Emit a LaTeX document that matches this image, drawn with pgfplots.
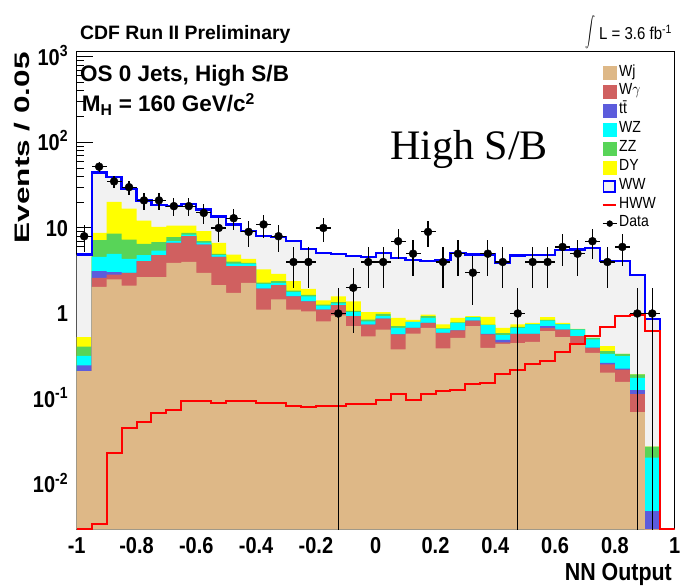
\documentclass[border=0pt]{standalone}
\usepackage{fontspec}
\setmainfont{Liberation Sans}
\newfontfamily\seriffont{Liberation Serif}
\usepackage{graphicx}
\usepackage{pgfplots}
\usepackage{pgfplotstable}
\pgfplotsset{compat=1.18}
\newcommand\fs[1]{\fontsize{#1}{#1}\selectfont}
\newcommand\tl[1]{\scalebox{1}[1.15]{#1}}
\definecolor{cWj}{RGB}{222,184,135}
\definecolor{cWg}{RGB}{208,96,96}
\definecolor{ctt}{RGB}{92,92,220}
\definecolor{cWZ}{RGB}{0,255,255}
\definecolor{cZZ}{RGB}{88,212,88}
\definecolor{cDY}{RGB}{255,255,0}
\definecolor{cWW}{RGB}{242,242,242}

\pgfplotstableread{
xl wj wg tt wz zz dy ww hww
-1.00 0.212 0.212 0.248 0.32 0.41 0.53 4.89 0.003
-0.95 2.05 2.61 3.12 4.59 7.19 8.76 44.5 0.0035
-0.90 2.50 2.85 3.04 4.98 8.60 20.2 39.5 0.0236
-0.85 2.12 2.99 2.99 4.35 7.32 16.85 28.8 0.046
-0.80 2.66 4.09 4.09 4.80 6.51 12.2 20.9 0.054
-0.75 2.66 4.80 4.80 5.45 6.81 10.29 18.4 0.0685
-0.70 3.91 6.69 6.69 7.0 7.79 10.67 18.2 0.075
-0.65 4.01 8.01 8.01 8.38 8.76 10.67 19.1 0.096
-0.60 2.99 6.4 6.4 6.75 7.0 9.16 16.4 0.096
-0.55 2.14 4.59 4.59 4.80 4.98 6.69 13.6 0.090
-0.50 1.74 3.57 3.57 3.84 4.05 4.89 11.0 0.096
-0.45 2.28 3.57 3.57 3.84 3.90 4.35 9.2 0.096
-0.40 1.11 1.96 1.96 2.22 2.30 3.27 8.0 0.090
-0.35 1.46 2.14 2.14 2.28 2.39 2.91 7.8 0.090
-0.30 1.11 1.59 1.59 1.79 1.85 2.39 7.0 0.084
-0.25 1.06 1.39 1.39 1.59 1.65 1.94 5.7 0.080
-0.20 0.81 1.11 1.11 1.24 1.27 1.42 5.1 0.084
-0.15 0.95 1.25 1.25 1.31 1.36 1.59 4.95 0.084
-0.10 0.71 0.93 0.93 1.04 1.07 1.39 4.67 0.087
-0.05 0.54 0.74 0.74 0.81 0.85 1.04 4.6 0.087
0.00 0.65 0.874 0.874 0.93 0.99 1.036 5.05 0.098
0.05 0.38 0.57 0.57 0.68 0.711 0.89 4.45 0.116
0.10 0.58 0.68 0.68 0.799 0.80 0.844 4.25 0.098
0.15 0.68 0.778 0.778 0.89 0.931 0.973 4.1 0.116
0.20 0.39 0.594 0.594 0.662 0.67 0.744 4.25 0.124
0.25 0.52 0.633 0.633 0.778 0.79 0.89 5.05 0.128
0.30 0.711 0.828 0.828 0.90 0.91 0.93 4.9 0.148
0.35 0.397 0.569 0.579 0.731 0.74 0.914 4.9 0.153
0.40 0.44 0.46 0.49 0.56 0.59 0.68 3.9 0.197
0.45 0.45 0.579 0.579 0.68 0.70 0.744 4.76 0.218
0.50 0.465 0.579 0.579 0.744 0.75 0.778 4.8 0.257
0.55 0.622 0.68 0.711 0.828 0.84 0.906 4.8 0.28
0.60 0.53 0.65 0.65 0.744 0.75 0.778 5.55 0.355
0.65 0.45 0.544 0.544 0.65 0.655 0.66 5.6 0.44
0.70 0.347 0.397 0.40 0.497 0.52 0.52 5.85 0.54
0.75 0.203 0.254 0.265 0.338 0.363 0.415 4.09 0.69
0.80 0.159 0.22 0.227 0.318 0.338 0.338 4.09 0.93
0.85 0.0703 0.114 0.127 0.177 0.194 0.194 2.8 0.97
0.90 0.00001 0.00001 0.0049 0.0206 0.0277 0.0277 0.87 0.62
0.95 0.00001 0.00001 0.00001 0.00001 0.00001 0.00001 0.00001 0.003
1.00 0.00001 0.00001 0.00001 0.00001 0.00001 0.00001 0.00001 0.003
}\stack

\pgfplotstableread{
xc n ex ep em
-0.975 8 0.025 2.83 2.83
-0.925 52 0.025 7.21 7.21
-0.875 35 0.025 5.92 5.92
-0.825 30 0.025 5.48 5.48
-0.775 21 0.025 4.58 4.58
-0.725 21 0.025 4.58 4.58
-0.675 18 0.025 4.24 4.24
-0.625 18 0.025 4.24 4.24
-0.575 15 0.025 3.87 3.87
-0.525 10 0.025 3.16 3.16
-0.475 13 0.025 3.61 3.61
-0.425 9 0.025 3 3
-0.375 11 0.025 3.32 3.32
-0.325 8 0.025 2.83 2.83
-0.275 4 0.025 2 2
-0.225 4 0.025 2 2
-0.175 10 0.025 3.16 3.16
-0.125 1 0.025 1 0.999
-0.075 2 0.025 1.41 1.41
-0.025 4 0.025 2 2
0.025 4 0.025 2 2
0.075 7 0.025 2.65 2.65
0.125 5 0.025 2.24 2.24
0.175 9 0.025 3 3
0.225 4 0.025 2 2
0.275 5 0.025 2.24 2.24
0.325 3 0.025 1.73 1.73
0.375 5 0.025 2.24 2.24
0.425 4 0.025 2 2
0.475 1 0.025 1 0.999
0.525 4 0.025 2 2
0.575 4 0.025 2 2
0.625 6 0.025 2.45 2.45
0.675 5 0.025 2.24 2.24
0.725 7 0.025 2.65 2.65
0.775 4 0.025 2 2
0.825 6 0.025 2.45 2.45
0.875 1 0.025 1 0.999
0.925 1 0.025 1 0.999
}\data

\begin{document}
\begin{tikzpicture}
\useasboundingbox (0pt,0pt) rectangle (681pt,586pt);
\begin{axis}[
  at={(76.7pt,56.7pt)}, anchor=south west,
  scale only axis, width=598pt, height=477.6pt,
  xmin=-1, xmax=1, ymode=log, ymin=0.003, ymax=1150,
  log origin y=infty,
  axis line style={line width=1pt, black},
  tick align=inside,
  xtick pos=left, ytick pos=left,
  xtick={-1,-0.8,-0.6,-0.4,-0.2,0,0.2,0.4,0.6,0.8,1},
  xticklabels={\tl{-1},\tl{-0.8},\tl{-0.6},\tl{-0.4},\tl{-0.2},\tl{0},\tl{0.2},\tl{0.4},\tl{0.6},\tl{0.8},\tl{1}},
  minor x tick num=3,
  ytick={0.01,0.1,1,10,100,1000},
  yticklabels={\tl{10\textsuperscript{-2}},\tl{10\textsuperscript{-1}},\tl{1},\tl{10},\tl{10\textsuperscript{2}},\tl{10\textsuperscript{3}}},
  minor ytick={0.004,0.005,0.006,0.007,0.008,0.009,0.02,0.03,0.04,0.05,0.06,0.07,0.08,0.09,0.2,0.3,0.4,0.5,0.6,0.7,0.8,0.9,2,3,4,5,6,7,8,9,20,30,40,50,60,70,80,90,200,300,400,500,600,700,800,900},
  major tick length=16pt, minor tick length=7.5pt,
  tick style={line width=1pt, black},
  xticklabel style={font=\fs{20}\bfseries, anchor=north, inner sep=0pt, yshift=-8pt},
  yticklabel style={font=\fs{20}\bfseries, anchor=base east, inner sep=0pt, xshift=-8.4pt, yshift=-8.2pt},
  legend cell align=left,
  legend style={at={(0.8784,0.9694)}, anchor=north west, draw=none, fill=none,
    inner sep=0pt, outer sep=0pt, row sep=5.55pt, column sep=2pt, font=\fs{14},
    nodes={inner sep=0pt, text height=9.5pt, text depth=3.5pt}},
]
\addplot[forget plot, const plot mark left, fill=cWW, draw=none] table[x=xl,y=ww] {\stack} \closedcycle;
\addplot[forget plot, const plot mark left, fill=cDY, draw=none] table[x=xl,y=dy] {\stack} \closedcycle;
\addplot[forget plot, const plot mark left, fill=cZZ, draw=none] table[x=xl,y=zz] {\stack} \closedcycle;
\addplot[forget plot, const plot mark left, fill=cWZ, draw=none] table[x=xl,y=wz] {\stack} \closedcycle;
\addplot[forget plot, const plot mark left, fill=ctt, draw=none] table[x=xl,y=tt] {\stack} \closedcycle;
\addplot[forget plot, const plot mark left, fill=cWg, draw=none] table[x=xl,y=wg] {\stack} \closedcycle;
\addplot[forget plot, const plot mark left, fill=cWj, draw=none] table[x=xl,y=wj] {\stack} \closedcycle;
\addplot[forget plot, const plot mark left, draw=blue, line width=2.3pt] table[x=xl,y=ww] {\stack};
\addplot[forget plot, const plot mark left, draw=red, line width=2pt] table[x=xl,y=hww] {\stack};
\addplot[forget plot, only marks, mark=*, mark size=4pt, black,
  error bars/.cd, x dir=both, x explicit, y dir=both, y explicit,
  error mark=none, error bar style={line width=1.2pt, black}]
  table[x=xc, y=n, x error=ex, y error plus=ep, y error minus=em] {\data};

\addlegendimage{legend image code/.code={\fill[cWj] (0pt,-6.5pt) rectangle (13pt,6.5pt);}}
\addlegendentry{\tl{Wj}}
\addlegendimage{legend image code/.code={\fill[cWg] (0pt,-6.5pt) rectangle (13pt,6.5pt);}}
\addlegendentry{\tl{W$\gamma$}}
\addlegendimage{legend image code/.code={\fill[ctt] (0pt,-6.5pt) rectangle (13pt,6.5pt);}}
\addlegendentry{\tl{t\={t}}}
\addlegendimage{legend image code/.code={\fill[cWZ] (0pt,-6.5pt) rectangle (13pt,6.5pt);}}
\addlegendentry{\tl{WZ}}
\addlegendimage{legend image code/.code={\fill[cZZ] (0pt,-6.5pt) rectangle (13pt,6.5pt);}}
\addlegendentry{\tl{ZZ}}
\addlegendimage{legend image code/.code={\fill[cDY] (0pt,-6.5pt) rectangle (13pt,6.5pt);}}
\addlegendentry{\tl{DY}}
\addlegendimage{legend image code/.code={\filldraw[fill=cWW, draw=blue, line width=1.6pt] (0.8pt,-5.7pt) rectangle (12.2pt,5.7pt);}}
\addlegendentry{\tl{WW}}
\addlegendimage{legend image code/.code={\draw[red, line width=1.5pt] (0pt,0pt) -- (13pt,0pt);}}
\addlegendentry{\tl{HWW}}
\addlegendimage{legend image code/.code={\draw[black, line width=1pt] (0pt,0pt) -- (14pt,0pt); \fill[black] (7pt,0pt) circle (3pt);}}
\addlegendentry{\tl{Data}}
\end{axis}
\node[anchor=base west, font=\fs{19.4}\bfseries, inner sep=0pt] at (80pt,546.7pt) {CDF Run II Preliminary};
\node[anchor=center, inner sep=0pt] at (590pt,554pt) {\scalebox{1}[1.5]{\fs{18}$\displaystyle\int$}};
\node[anchor=base west, font=\fs{15}, inner sep=0pt] at (599pt,546.7pt) {\tl{L = 3.6 fb\textsuperscript{-1}}};
\node[anchor=base west, font=\fs{22.5}\bfseries, inner sep=0pt] at (80pt,504.3pt) {OS 0 Jets, High S/B};
\node[anchor=base west, font=\fs{22.5}\bfseries, inner sep=0pt] at (81.7pt,474.3pt) {M\textsubscript{H} = 160 GeV/c\textsuperscript{2}};
\node[anchor=base west, font=\fs{42}\seriffont, inner sep=0pt] at (390pt,426.7pt) {High S/B};
\node[anchor=base east, font=\fs{21.4}\bfseries, inner sep=0pt] at (672pt,5pt) {\tl{NN Output}};
\node[anchor=base east, rotate=90, font=\fs{21}\bfseries, inner sep=0pt] at (29pt,534pt) {\scalebox{1.5}[1]{Events / 0.05}};
\end{tikzpicture}
\end{document}
